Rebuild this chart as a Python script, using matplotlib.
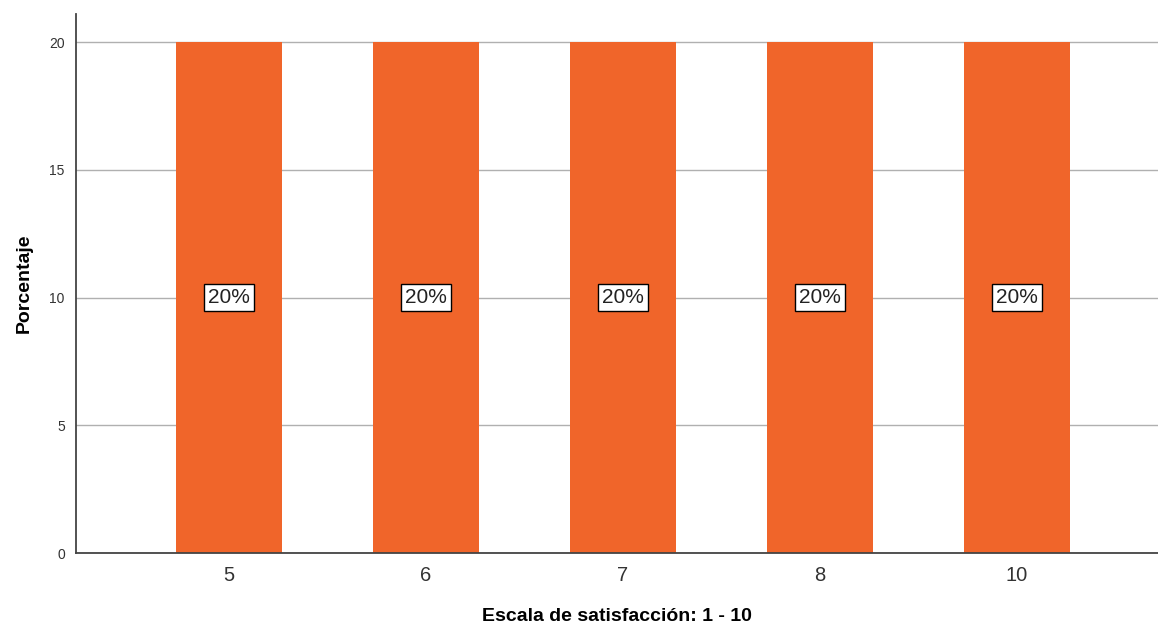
import matplotlib.pyplot as plt
import numpy as np

plt.rcParams['font.family'] = ['Liberation Sans', 'DejaVu Sans']

# Datos
categorias = ["5", "6", "7", "8", "10"]
porcentajes = [20, 20, 20, 20, 20]
etiquetas = ["20%", "20%", "20%", "20%", "20%"]

fig = plt.figure(figsize=(11.58, 6.31), dpi=100)
ax = fig.add_axes([0.0656, 0.1236, 0.9344, 0.8542])

x = np.arange(len(categorias))
ax.bar(x, porcentajes, width=0.54, color="#F0652A", zorder=2)

for xi, val, txt in zip(x, porcentajes, etiquetas):
    ax.text(xi, val / 2, txt, ha="center", va="center", fontsize=15, color="#222222",
            bbox=dict(boxstyle="square,pad=0.2", facecolor="white", edgecolor="black", linewidth=1),
            zorder=3)

ax.set_xlim(-0.777, 4.716)
ax.set_ylim(0, 21.1)
ax.set_xticks(x)
ax.set_xticklabels(categorias, fontsize=14.5, color="#333333")
ax.set_yticks([0, 5, 10, 15, 20])
ax.tick_params(axis="y", labelsize=10, length=0, pad=8, colors="#333333")
ax.tick_params(axis="x", length=0, pad=9)
ax.grid(axis="y", color="#b0b0b0", linewidth=1, zorder=1)

for s in ["top", "right"]:
    ax.spines[s].set_visible(False)
for s in ["left", "bottom"]:
    ax.spines[s].set_color("#444444")
    ax.spines[s].set_linewidth(1.3)

ax.set_xlabel("Escala de satisfacción: 1 - 10", fontsize=14, fontweight="bold", labelpad=17)
ax.set_ylabel("Porcentaje", fontsize=14, fontweight="bold", labelpad=12)

plt.savefig("out.png", dpi=100)
